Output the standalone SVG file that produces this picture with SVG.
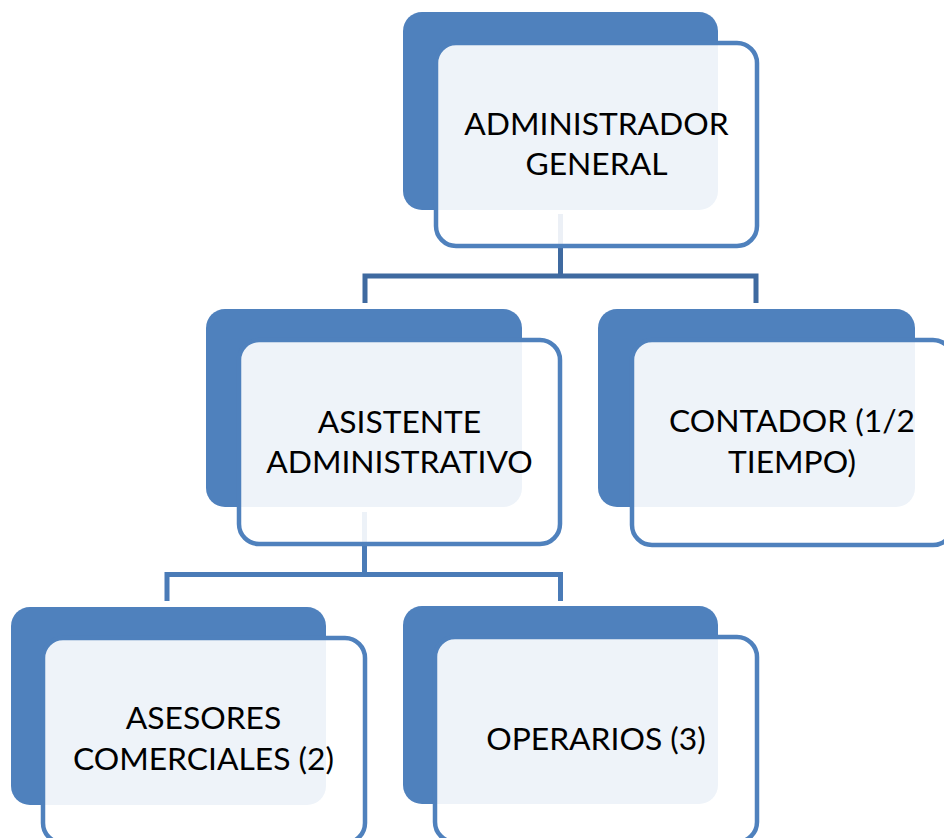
<svg xmlns="http://www.w3.org/2000/svg" width="944" height="838" viewBox="0 0 944 838">
<style>
.back{fill:#4F81BD;}
.front{fill:#FFFFFF;fill-opacity:0.9;stroke:#4F81BD;stroke-width:4.5;}
.lbl{font-family:Lato,"Open Sans","Liberation Sans",sans-serif;font-size:31.8px;fill:#000000;text-anchor:middle;}
.c1{fill:none;stroke:#3F6AA0;stroke-width:5;}
.c2{fill:none;stroke:#4A7BB7;stroke-width:5;}
</style>
<rect width="944" height="838" fill="#FFFFFF"/>
<g id="connectors">
<path class="c1" d="M560.5,214 V276 M365,303 V276 H756 V303"/>
<path class="c2" d="M364.5,512 V574.5 M167,601 V574.5 H560.5 V601"/>
</g>
<g id="n-admin">
<rect class="back" x="403" y="12" width="315" height="198" rx="19"/>
<rect class="front" x="436" y="43" width="321" height="203" rx="20"/>
<text class="lbl" x="596.5" y="135">ADMINISTRADOR</text>
<text class="lbl" x="596.5" y="175">GENERAL</text>
</g>
<g id="n-asistente">
<rect class="back" x="206" y="309" width="316" height="198" rx="19"/>
<rect class="front" x="239" y="340" width="321" height="204" rx="20"/>
<text class="lbl" x="399.5" y="433">ASISTENTE</text>
<text class="lbl" x="399.5" y="473">ADMINISTRATIVO</text>
</g>
<g id="n-contador">
<rect class="back" x="598" y="309" width="317" height="198" rx="19"/>
<rect class="front" x="632" y="340" width="321" height="205" rx="20"/>
<text class="lbl" x="792" y="432">CONTADOR (1/2</text>
<text class="lbl" x="792" y="473">TIEMPO)</text>
</g>
<g id="n-asesores">
<rect class="back" x="11" y="607" width="315" height="198" rx="19"/>
<rect class="front" x="43" y="638" width="322" height="205" rx="20"/>
<text class="lbl" x="203.5" y="729">ASESORES</text>
<text class="lbl" x="203.5" y="770">COMERCIALES (2)</text>
</g>
<g id="n-operarios">
<rect class="back" x="403" y="606" width="315" height="198" rx="19"/>
<rect class="front" x="435" y="637" width="322" height="205" rx="20"/>
<text class="lbl" x="596" y="750">OPERARIOS (3)</text>
</g>
</svg>
